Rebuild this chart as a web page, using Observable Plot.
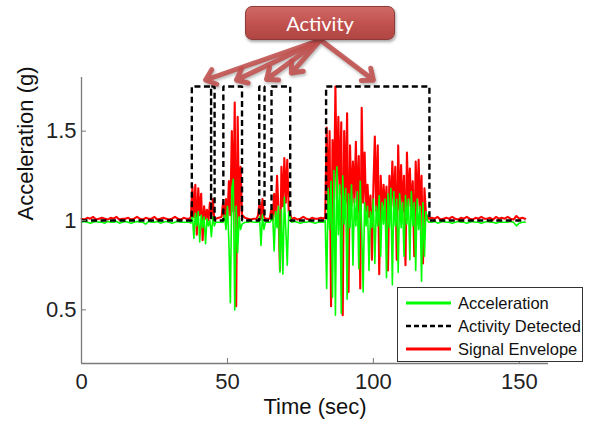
<!DOCTYPE html>
<html>
<head>
<meta charset="utf-8">
<script src="https://cdn.jsdelivr.net/npm/d3@7"></script>
<script src="https://cdn.jsdelivr.net/npm/@observablehq/plot@0.6"></script>
<style>
  html, body { margin: 0; padding: 0; background: #fff; }
  #wrap { position: relative; width: 592px; height: 424px; overflow: hidden; font-family: "Liberation Sans", Arial, sans-serif; }
  #chart { position: absolute; left: 0; top: 0; }
  #chart svg g[aria-label="arrow"] { filter: drop-shadow(1px 2px 1.5px rgba(0,0,0,0.3)); }
  .callout {
    position: absolute; left: 245px; top: 6px; width: 150px; height: 34px; box-sizing: border-box;
    background: linear-gradient(#cf6a66, #c0504d 55%, #b04643);
    border: 1.5px solid #8e3a37; border-radius: 7px;
    box-shadow: 1px 2px 3px rgba(0,0,0,0.35);
    color: #fff; font-family: Lato, "Open Sans", sans-serif; font-size: 20px;
    display: flex; align-items: center; justify-content: center;
  }
  .legend {
    position: absolute; left: 397px; top: 287px; width: 186px; height: 75px; box-sizing: border-box;
    background: #fff; border: 1px solid #333;
    font-family: "Liberation Sans", Arial, sans-serif; font-size: 16.5px; color: #111;
  }
  .legend .row { position: absolute; left: 8px; height: 20px; display: flex; align-items: center; }
  .legend .row svg { margin-right: 7px; }
</style>
</head>
<body>
<div id="wrap">
  <div id="chart"></div>
  <div class="callout" id="callout"></div>
  <div class="legend" id="legend"></div>
</div>
<script>
// ---- axis settings ----
const xDomain = [0, 160];
const yDomain = [0.2, 1.8];
const xTicks = [0, 50, 100, 150];
const yTicks = [0.5, 1, 1.5];
const xLabel = "Time (sec)";
const yLabel = "Acceleration (g)";
const seriesNames = ["Acceleration", "Activity Detected", "Signal Envelope"];
const calloutText = "Activity";

// ---- sampling segments (start time, step in sec) shared by both signals ----
const segStart = [0, 37, 46, 48, 55, 60, 63, 64.5, 72, 83, 119];
const segStep  = [1, 0.5, 1, 0.5, 1, 0.5, 1, 0.5, 1, 0.5, 1];

// ---- Acceleration (green) ----
const accelRest1 = [0.99,0.995,0.99,0.985,0.99,0.995,0.99,0.99,0.985,0.995,
  0.99,0.99,0.995,0.985,0.99,0.995,0.99,0.985,0.99,0.995,
  0.99,0.99,0.98,0.995,0.99,0.99,0.995,0.985,0.99,0.995,
  0.99,0.985,0.99,0.995,0.99,0.99,0.99];
const accelBurst1 = [0.99,0.985,1.03,0.90,1.04,0.97,1.05,0.88,1.03,0.96,1.02,0.87,1.01,0.97,1.00,0.91,1.02,0.97];
const accelRest2 = [0.99,0.99];
const accelBurst2 = [0.99,0.99,1.03,0.95,1.08,0.88,0.54,1.18,1.23,0.50,1.08,0.82,1.02,0.95];
const accelRest3 = [0.98,0.99,0.99,0.995,0.99];
const accelBurst3 = [0.99,0.99,1.02,0.86,1.03,0.95];
const accelRest4 = [0.99,0.99];
const accelBurst4 = [0.99,1.00,1.03,0.83,1.05,0.96,1.08,0.71,1.06,0.70,1.13,0.95,0.75,1.05];
const accelRest5 = [0.99,0.995,0.99,0.985,0.99,0.99,0.995,0.99,0.985,0.99,0.99];
const accelBurst5 = [0.99,1.00,0.62,1.18,0.95,1.22,0.57,1.28,0.47,1.30,
  0.92,1.20,0.48,1.25,0.98,1.18,0.56,1.15,0.96,1.20,
  0.75,1.12,0.97,1.16,0.73,1.22,0.95,0.60,1.10,0.97,
  1.08,0.72,1.05,0.96,1.12,0.76,1.08,0.97,1.14,0.80,
  1.10,0.98,1.12,0.68,1.15,0.96,1.18,0.64,1.16,0.97,
  1.12,0.71,1.15,0.96,1.10,0.80,1.14,0.98,1.12,0.78,
  1.16,0.97,1.10,0.72,1.12,0.95,1.08,0.66,1.10,0.80,1.05,1.00];
const accelRest6 = [0.99,0.99,0.995,0.985,0.99,0.995,0.99,0.99,0.985,0.99,
  0.995,0.99,0.99,0.985,0.99,0.995,0.99,0.99,0.985,0.99,
  0.995,0.99,0.99,0.985,0.99,0.99,0.99,0.99,0.995,0.99,
  0.97,0.985,0.99,0.99];

// ---- Signal envelope (red) ----
const envRest1 = [1.01,1.005,1.015,1.01,1.02,1.005,1.01,1.015,1.01,1.005,
  1.015,1.01,1.02,1.005,1.01,1.01,1.015,1.005,1.01,1.02,
  1.01,1.005,1.015,1.01,1.01,1.02,1.005,1.01,1.015,1.01,
  1.005,1.01,1.02,1.01,1.005,1.015,1.01];
const envBurst1 = [1.01,1.02,1.19,1.02,1.20,0.92,1.18,1.03,1.15,0.89,1.08,1.01,1.06,1.00,1.10,1.02,1.12,1.01];
const envRest2 = [1.01,1.015];
const envBurst2 = [1.02,1.10,1.00,1.12,1.01,1.22,1.03,1.50,1.05,1.66,0.52,1.58,1.02,1.30];
const envRest3 = [1.03,1.015,1.01,1.005,1.01];
const envBurst3 = [1.01,1.03,1.10,1.01,1.12,1.02];
const envRest4 = [1.01,1.01];
const envBurst4 = [1.01,1.06,1.00,1.15,1.02,1.25,1.05,0.72,1.30,1.08,1.35,1.10,1.34,1.05];
const envRest5 = [1.01,1.015,1.005,1.01,1.02,1.01,1.005,1.015,1.01,1.01,1.015];
const envBurst5 = [1.01,1.02,1.52,1.08,1.50,0.52,1.45,1.10,1.75,1.12,
  1.58,1.15,1.55,0.47,1.50,1.10,1.60,0.60,1.42,1.08,
  1.33,1.10,1.44,1.05,1.36,0.62,1.63,1.10,1.38,1.05,
  1.20,1.02,1.14,0.78,1.18,1.47,1.05,1.42,0.70,1.25,
  1.04,1.20,1.06,1.19,0.72,1.25,1.05,1.33,1.08,1.30,
  0.78,1.42,1.06,1.31,1.05,1.25,0.75,1.38,1.08,1.29,
  1.05,1.22,0.80,1.33,1.06,1.34,1.05,1.25,0.76,1.18,1.04,1.02];
const envRest6 = [1.01,1.015,1.01,1.02,1.005,1.01,1.015,1.01,1.02,1.01,
  1.005,1.015,1.01,1.02,1.01,1.005,1.015,1.01,1.02,1.01,
  1.01,1.015,1.005,1.02,1.01,1.015,1.01,1.02,1.01,1.005,
  1.025,1.01,1.015,1.01];

// ---- Activity detected (dashed step) ----
const activityStart = [37.8, 44.4, 48.6, 60.9, 65.1, 83.8];
const activityEnd   = [44.4, 45.6, 55.0, 62.7, 71.5, 119.2];
const idleLevel = 1.0;
const activeLevel = 1.75;
const recordEnd = 152;

// ---- callout arrows (data units) ----
const arrowFromX = 81.9, arrowFromY = 2.01;
const arrowToX = [42.5, 53.1, 63.4, 71.9, 100.0];
const arrowToY = [1.786, 1.786, 1.79, 1.825, 1.786];

// ---------- build tables ----------
function buildSeries(segs) {
  const out = [];
  segs.forEach((vals, k) => {
    vals.forEach((v, i) => out.push({t: segStart[k] + i * segStep[k], v}));
  });
  return out;
}
const accel = buildSeries([accelRest1, accelBurst1, accelRest2, accelBurst2, accelRest3, accelBurst3, accelRest4, accelBurst4, accelRest5, accelBurst5, accelRest6]);
const envelope = buildSeries([envRest1, envBurst1, envRest2, envBurst2, envRest3, envBurst3, envRest4, envBurst4, envRest5, envBurst5, envRest6]);

const activity = [{t: 0, v: idleLevel}];
activityStart.forEach((s, i) => {
  activity.push({t: s, v: idleLevel}, {t: s, v: activeLevel}, {t: activityEnd[i], v: activeLevel}, {t: activityEnd[i], v: idleLevel});
});
activity.push({t: recordEnd, v: idleLevel});

const arrows = arrowToX.map((x, i) => ({x1: arrowFromX, y1: arrowFromY, x2: x, y2: arrowToY[i]}));

const axisColor = "#7a7a7a";
const chart = Plot.plot({
  width: 592, height: 424,
  marginLeft: 81, marginRight: 44, marginTop: 77, marginBottom: 61,
  x: {domain: xDomain},
  y: {domain: yDomain},
  style: {fontFamily: "'Liberation Sans', Arial, sans-serif", fontSize: "22px", color: "#222", background: "transparent", overflow: "visible"},
  marks: [
    Plot.line(envelope, {x: "t", y: "v", stroke: "#ff0000", strokeWidth: 2.1}),
    Plot.line(accel, {x: "t", y: "v", stroke: "#00ff00", strokeWidth: 1.6}),
    Plot.line(activity, {x: "t", y: "v", stroke: "#000", strokeWidth: 2.4, strokeDasharray: "6,3.5", strokeLinecap: "butt", strokeLinejoin: "miter"}),
    Plot.ruleX([xDomain[0]], {stroke: axisColor, strokeWidth: 1.3}),
    Plot.ruleY([yDomain[0]], {stroke: axisColor, strokeWidth: 1.3}),
    Plot.tickX(xTicks, {x: d => d, insetTop: 281, stroke: axisColor}),
    Plot.tickY(yTicks, {y: d => d, insetRight: 462, stroke: axisColor}),
    Plot.axisX({ticks: xTicks, tickSize: 0, tickPadding: 10, fontSize: 22, label: null}),
    Plot.axisY({ticks: yTicks, tickSize: 0, tickPadding: 5, fontSize: 22, label: null, tickFormat: d => String(d)}),
    Plot.text([xLabel], {frameAnchor: "bottom", lineAnchor: "middle", dy: 43, fontSize: 22, fill: "#111"}),
    Plot.text([yLabel], {frameAnchor: "left", lineAnchor: "middle", dx: -56, rotate: -90, fontSize: 22, fill: "#111"}),
    Plot.arrow(arrows, {x1: "x1", y1: "y1", x2: "x2", y2: "y2", stroke: "#c0504d", strokeOpacity: 0.88, strokeWidth: 5, headLength: 3.6, headAngle: 80})
  ]
});
document.getElementById("chart").append(chart);

document.getElementById("callout").textContent = calloutText;

// legend
const legend = document.getElementById("legend");
const swatches = [
  {stroke: "#00ff00", dash: null, w: 3},
  {stroke: "#000", dash: "5,3", w: 2.5},
  {stroke: "#ff0000", dash: null, w: 3}
];
const rowTops = [5, 28, 51];
seriesNames.forEach((name, i) => {
  const row = document.createElement("div");
  row.className = "row";
  row.style.top = rowTops[i] + "px";
  const s = swatches[i];
  row.innerHTML = `<svg width="45" height="10"><line x1="0" y1="5" x2="45" y2="5" stroke="${s.stroke}" stroke-width="${s.w}" ${s.dash ? `stroke-dasharray="${s.dash}"` : ""}/></svg><span>${name}</span>`;
  legend.append(row);
});
</script>
</body>
</html>
